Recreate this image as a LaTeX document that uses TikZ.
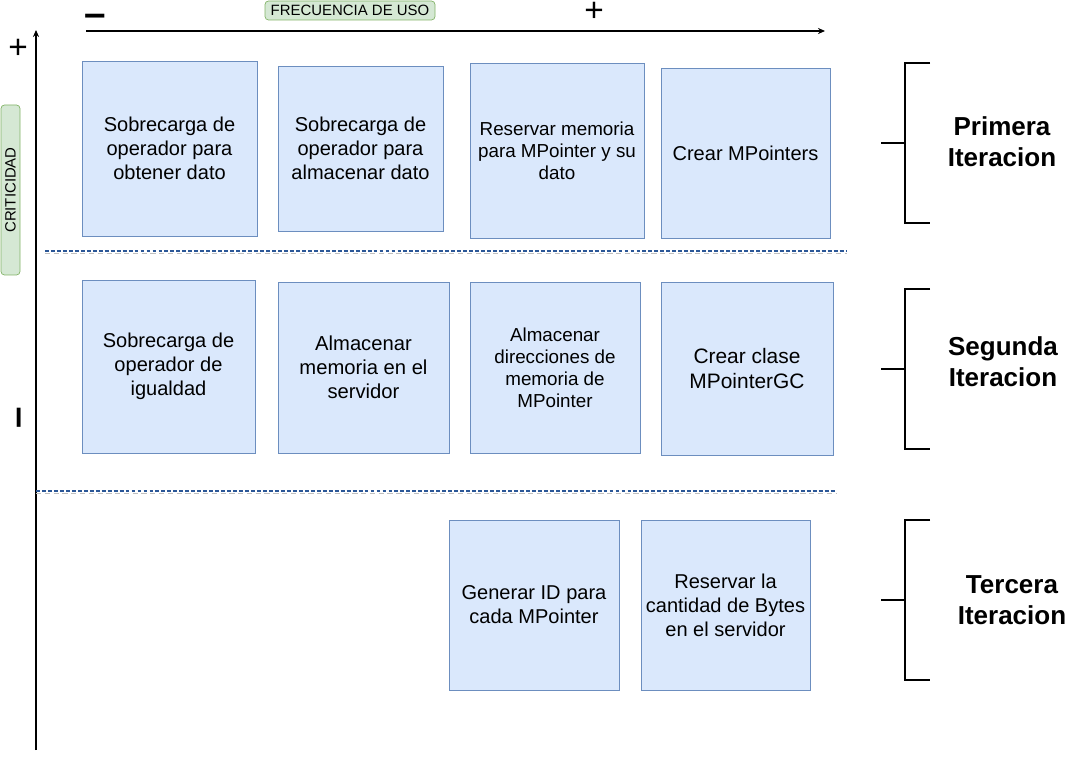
\documentclass[tikz,border=0pt]{standalone}
\usepackage{fontspec}
\setmainfont{Liberation Sans}
\usepackage{xcolor}
\usepackage{tikz}
\usetikzlibrary{arrows.meta,positioning,calc}
\definecolor{boxfill}{HTML}{DAE8FC}
\definecolor{boxline}{HTML}{6C8EBF}
\definecolor{tagfill}{HTML}{D5E8D4}
\definecolor{tagline}{HTML}{82B366}
\definecolor{sepline}{HTML}{2B5797}
\tikzset{
  task/.style={draw=boxline, fill=boxfill, align=center, inner sep=2pt,
               font=\fontsize{11.4}{13.7}\selectfont},
  tasksmall/.style={task, font=\fontsize{10.7}{12.5}\selectfont},
  tag/.style={draw=tagline, fill=tagfill, rounded corners=2pt, inner sep=0pt,
              font=\fontsize{8.5}{10}\selectfont},
  sepdash/.style={draw=sepline, line width=0.6pt, dash pattern=on 2.2pt off 1.2pt},
  sepshadow/.style={draw=black!25, line width=0.6pt, dash pattern=on 3pt off 2pt},
  iter/.style={font=\bfseries\fontsize{14.8}{17.6}\selectfont, align=center},
  signo/.style={font=\fontsize{19}{19}\selectfont, inner sep=0pt},
  raya/.style={font=\bfseries\fontsize{22}{22}\selectfont, inner sep=0pt},
}
\newcommand{\iterbracket}[3]{%
  \draw[line width=1.1pt] (18.6,#1) -- (18.1,#1) -- (18.1,#2) -- (18.6,#2);
  \draw[line width=1.1pt] (17.62,#3) -- (18.1,#3);
}

\begin{document}
\begin{tikzpicture}[>=Stealth]
    \useasboundingbox (0,0) rectangle (21.82,-15.28);
    % ejes
    \coordinate (yfin) at (0.72,-15.0);
    \coordinate (ytop) at (0.72,-0.6);
    \coordinate (xini) at (1.72,-0.62);
    \coordinate (xfin) at (16.5,-0.62);
    \draw[line width=0.7pt, -{Stealth[length=4pt, width=3.5pt]}] (yfin) -- (ytop);
    \draw[line width=0.7pt, -{Stealth[length=4pt, width=3.5pt]}] (xini) -- (xfin);
    \node[tag, minimum width=3.4cm, minimum height=0.38cm] (frec) at (7.0,-0.21) {FRECUENCIA DE USO};
    \node[tag, minimum width=3.4cm, minimum height=0.38cm, rotate=90] (crit) at (0.21,-3.8) {CRITICIDAD};
    \node[raya] (xmenos) at (1.9,-0.4) {–};
    \node[signo] (xmas) at (11.88,-0.24) {+};
    \node[signo] (ymas) at (0.36,-0.97) {+};
    \node[raya, rotate=90] (ymenos) at (0.46,-8.36) {–};
    % separadores
    \draw[sepshadow] (0.9,-5.07) -- (16.94,-5.07);
    \draw[sepdash] (0.9,-5.02) -- (16.94,-5.02);
    \draw[sepshadow] (0.72,-9.87) -- (16.72,-9.87);
    \draw[sepdash] (0.72,-9.82) -- (16.72,-9.82);
    % primera iteracion
    \node[task, minimum width=3.5cm, minimum height=3.5cm] (obtener) at (3.39,-2.97)
      {Sobrecarga de\\operador para\\obtener dato};
    \node[task, minimum width=3.3cm, minimum height=3.3cm] (almacenar) at (7.21,-2.97)
      {Sobrecarga de\\operador para\\almacenar dato};
    \node[tasksmall, minimum width=3.48cm, minimum height=3.5cm] (reservar) at (11.14,-3.01)
      {Reservar memoria\\para MPointer y su\\dato};
    \node[task, minimum width=3.38cm, minimum height=3.4cm] (crear) at (14.91,-3.06)
      {Crear MPointers};
    % segunda iteracion
    \node[task, minimum width=3.46cm, minimum height=3.46cm] (igualdad) at (3.37,-7.33)
      {Sobrecarga de\\operador de\\igualdad};
    \node[task, font=\fontsize{11.5}{13.7}\selectfont, minimum width=3.42cm, minimum height=3.42cm] (servidor) at (7.27,-7.35)
      {Almacenar\\memoria en el\\servidor};
    \node[tasksmall, minimum width=3.4cm, minimum height=3.42cm] (direcciones) at (11.1,-7.35)
      {Almacenar\\direcciones de\\memoria de\\MPointer};
    \node[task, font=\fontsize{11.9}{13.7}\selectfont, minimum width=3.44cm, minimum height=3.46cm] (clasegc) at (14.94,-7.37)
      {Crear clase\\MPointerGC};
    % tercera iteracion
    \node[task, minimum width=3.4cm, minimum height=3.4cm] (generarid) at (10.68,-12.1)
      {Generar ID para\\cada MPointer};
    \node[task, minimum width=3.38cm, minimum height=3.4cm] (bytes) at (14.51,-12.1)
      {Reservar la\\cantidad de Bytes\\en el servidor};
    % llaves
    \iterbracket{-1.26}{-4.46}{-2.86}
    \iterbracket{-5.78}{-8.98}{-7.38}
    \iterbracket{-10.4}{-13.6}{-12.0}
    \node[iter] (primera) at (20.04,-2.84) {Primera\\Iteracion};
    \node[iter] (segunda) at (20.06,-7.24) {Segunda\\Iteracion};
    \node[iter] (tercera) at (20.24,-12.0) {Tercera\\Iteracion};
\end{tikzpicture}
\end{document}
